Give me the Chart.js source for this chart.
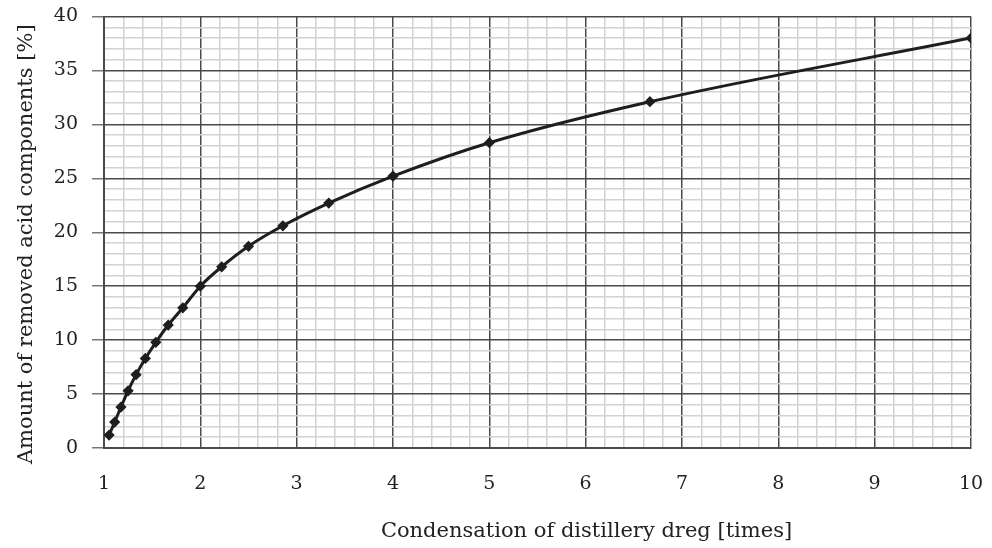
<!DOCTYPE html>
<html>
<head>
<meta charset="utf-8">
<title>Removed acid components vs. condensation</title>
<script src="https://cdn.jsdelivr.net/npm/chart.js@4.4.1/dist/chart.umd.min.js"></script>
<style>
  html, body { margin: 0; padding: 0; background: #fff; }
  #wrap { position: relative; width: 992px; height: 548px; }
</style>
</head>
<body>
<div id="wrap"><canvas id="chart"></canvas></div>
<script>
// Messpunkte: Eindickungsfaktor (x) und entfernter Säureanteil in % (y).
const condensation = [1.053, 1.111, 1.176, 1.25, 1.333, 1.429, 1.538, 1.667, 1.818,
  2.0, 2.222, 2.5, 2.857, 3.333, 4.0, 5.0, 6.667, 10.0];
const removedAcid = [1.2, 2.4, 3.8, 5.3, 6.8, 8.3, 9.8, 11.4, 13.0,
  15.0, 16.8, 18.7, 20.6, 22.7, 25.2, 28.3, 32.1, 38.0];

const xTickLabels = ['1', '2', '3', '4', '5', '6', '7', '8', '9', '10'];
const yTickLabels = ['0', '5', '10', '15', '20', '25', '30', '35', '40'];

const X_TITLE = 'Condensation of distillery dreg [times]';
const Y_TITLE = 'Amount of removed acid components [%]';

const FONT = "'DejaVu Serif', 'Liberation Serif', serif";
const MAJOR = '#4a4a4a';
const MINOR = '#d2d2d2';

const isWhole = (v, step) => Math.abs(v / step - Math.round(v / step)) < 1e-6;

// Tick-Überhang nicht in den Layout-Rand einrechnen – Plotfläche fest halten.
function pinScale(s, size) {
  if (s.isHorizontal()) s.height = size; else s.width = size;
  s.paddingTop = 0;
  s.paddingBottom = 0;
  s.paddingLeft = 0;
  s.paddingRight = 0;
}

// Achsentitel selbst zeichnen: im Original sitzen sie nicht exakt mittig.
const axisTitles = {
  id: 'axisTitles',
  afterDraw(chart) {
    const { ctx, chartArea: a } = chart;
    ctx.save();
    ctx.fillStyle = '#222';
    ctx.font = `21px ${FONT}`;
    ctx.textAlign = 'center';
    ctx.textBaseline = 'middle';
    ctx.fillText(X_TITLE, (a.left + a.right) / 2 + 49, a.bottom + 84);
    ctx.translate(27, (a.top + a.bottom) / 2 + 12);
    ctx.rotate(-Math.PI / 2);
    ctx.fillText(Y_TITLE, 0, 0);
    ctx.restore();
  },
};

const points = condensation.map((x, i) => ({ x, y: removedAcid[i] }));

new Chart(document.getElementById('chart'), {
  type: 'line',
  data: {
    datasets: [{
      data: points,
      borderColor: '#1e1e1e',
      backgroundColor: '#1e1e1e',
      borderWidth: 3,
      cubicInterpolationMode: 'monotone',
      pointStyle: 'rectRot',
      pointRadius: 3.5,
      pointHoverRadius: 3.5,
      fill: false,
    }],
  },
  plugins: [axisTitles],
  options: {
    responsive: true,
    maintainAspectRatio: false,
    animation: false,
    layout: { padding: { top: 16.5, right: 21, left: 0, bottom: 0 } },
    plugins: { legend: { display: false }, tooltip: { enabled: false } },
    scales: {
      x: {
        type: 'linear',
        min: 1,
        max: 10,
        afterFit: (s) => pinScale(s, 100),
        border: { color: MAJOR, width: 2 },
        grid: {
          drawTicks: false,
          color: (c) => (isWhole(c.tick.value, 1) ? MAJOR : MINOR),
          lineWidth: 1.5,
        },
        ticks: {
          stepSize: 0.2,
          autoSkip: false,
          maxRotation: 0,
          padding: 25,
          color: '#222',
          font: { family: FONT, size: 19 },
          callback: (v) => (isWhole(v, 1) ? xTickLabels[Math.round(v) - 1] : ''),
        },
      },
      y: {
        min: 0,
        max: 40,
        afterFit: (s) => pinScale(s, 104),
        border: { color: MAJOR, width: 2 },
        grid: {
          tickLength: 12,
          color: (c) => (isWhole(c.tick.value, 5) ? MAJOR : MINOR),
          lineWidth: 1.5,
          tickColor: (c) => (isWhole(c.tick.value, 5) ? '#777' : 'rgba(0,0,0,0)'),
        },
        ticks: {
          stepSize: 1,
          autoSkip: false,
          padding: 14,
          color: '#222',
          font: { family: FONT, size: 19 },
          callback: (v) => (isWhole(v, 5) ? yTickLabels[Math.round(v / 5)] : ''),
        },
      },
    },
  },
});
</script>
</body>
</html>
